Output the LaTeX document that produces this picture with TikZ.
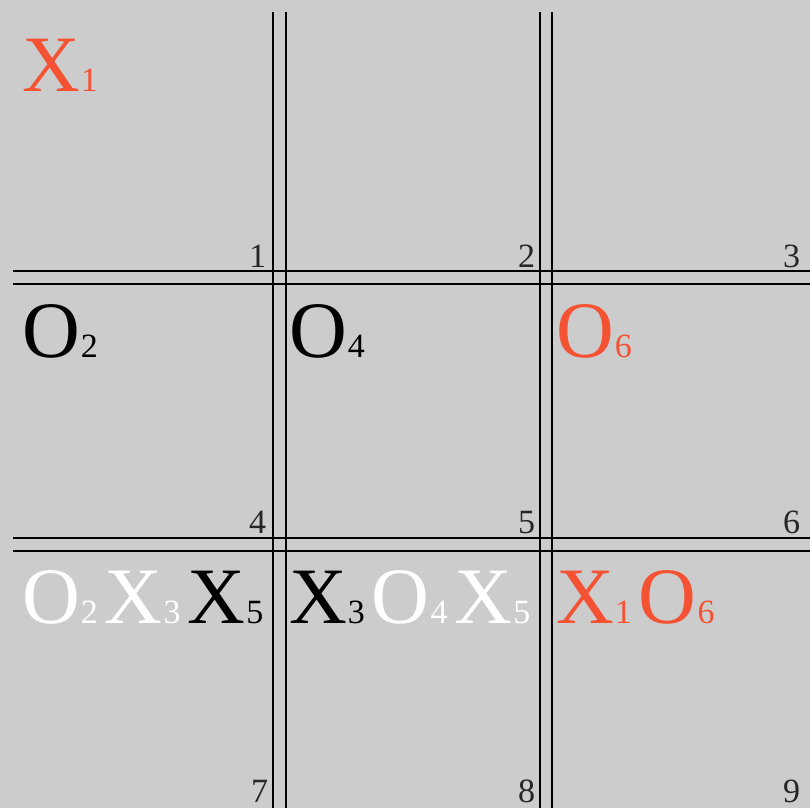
\documentclass[tikz,border=0pt]{standalone}
\usepackage{fontspec}
\setmainfont{Liberation Serif}
\definecolor{bg}{RGB}{204,204,204}
\definecolor{mred}{RGB}{245,82,52}
\newcommand\mkbig[1]{{\fontsize{80bp}{80bp}\selectfont #1}}
\newcommand\mksub[1]{{\fontsize{34bp}{34bp}\selectfont #1}}
\newcommand\mv[2]{\mkbig{#1}\hspace{1bp}\mksub{#2}}
\newcommand\gap{\hspace{7bp}}
\tikzset{
  grid/.style={line width=1.3bp, black},
  movetext/.style={anchor=base west, inner sep=0pt, outer sep=0pt},
  cellnum/.style={anchor=base east, inner sep=0pt, outer sep=0pt, font=\fontsize{34bp}{34bp}\selectfont, text=black!85}
}
\begin{document}
\begin{tikzpicture}[x=1bp,y=-1bp]
\fill[bg] (0,0) rectangle (810,808);
\useasboundingbox (0,0) rectangle (810,808);
% grid lines
\coordinate (v1t) at (273,12); \coordinate (v1b) at (273,808);
\coordinate (v2t) at (286,12); \coordinate (v2b) at (286,808);
\coordinate (v3t) at (540,12); \coordinate (v3b) at (540,808);
\coordinate (v4t) at (552,12); \coordinate (v4b) at (552,808);
\coordinate (h1l) at (13,271); \coordinate (h1r) at (810,271);
\coordinate (h2l) at (13,284); \coordinate (h2r) at (810,284);
\coordinate (h3l) at (13,538); \coordinate (h3r) at (810,538);
\coordinate (h4l) at (13,551); \coordinate (h4r) at (810,551);
\draw[grid] (v1t) -- (v1b); \draw[grid] (v2t) -- (v2b);
\draw[grid] (v3t) -- (v3b); \draw[grid] (v4t) -- (v4b);
\draw[grid] (h1l) -- (h1r); \draw[grid] (h2l) -- (h2r);
\draw[grid] (h3l) -- (h3r); \draw[grid] (h4l) -- (h4r);
% cell numbers
\node[cellnum] (n1) at (266,267) {1};
\node[cellnum] (n2) at (535,267) {2};
\node[cellnum] (n3) at (800,267) {3};
\node[cellnum] (n4) at (266,533) {4};
\node[cellnum] (n5) at (535,533) {5};
\node[cellnum] (n6) at (800,533) {6};
\node[cellnum] (n7) at (268,802) {7};
\node[cellnum] (n8) at (535,802) {8};
\node[cellnum] (n9) at (800,802) {9};
% moves
\node[movetext, text=mred] (c1) at (22,91) {\mv{X}{1}};
\node[movetext] (c4) at (22,357) {\mv{O}{2}};
\node[movetext] (c5) at (289,357) {\mv{O}{4}};
\node[movetext, text=mred] (c6) at (556,357) {\mv{O}{6}};
\node[movetext] (c7) at (22,623) {\textcolor{white}{\mv{O}{2}\gap\mv{X}{3}}\gap\mv{X}{5}};
\node[movetext] (c8) at (289,623) {\mv{X}{3}\gap\textcolor{white}{\mv{O}{4}\gap\mv{X}{5}}};
\node[movetext, text=mred] (c9) at (556,623) {\mv{X}{1}\gap\mv{O}{6}};
\end{tikzpicture}
\end{document}
